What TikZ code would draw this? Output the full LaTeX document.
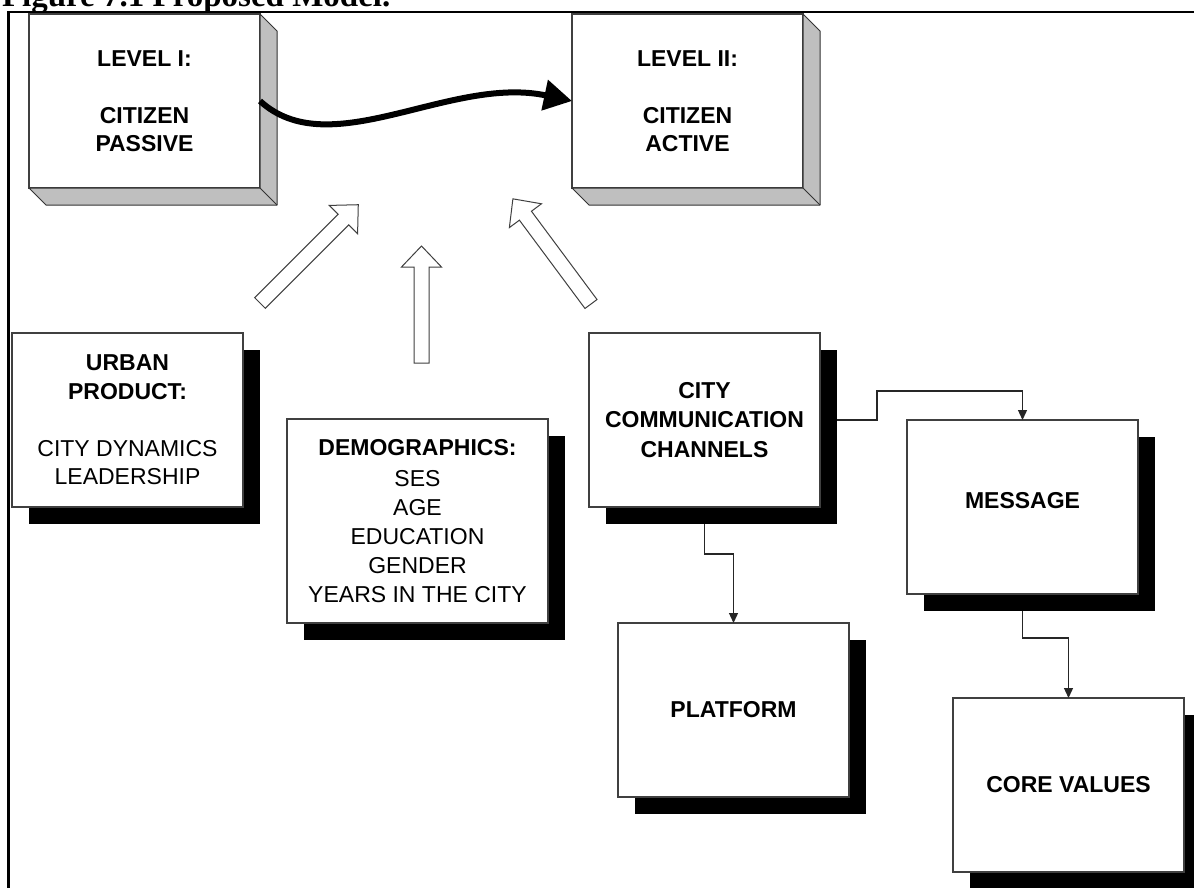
\documentclass[tikz,border=0pt]{standalone}
\usepackage{fontspec}
\setmainfont{Liberation Sans}
\newfontfamily\captionserif{Liberation Serif}
\usetikzlibrary{arrows.meta,shadows,calc}

\tikzset{
  every node/.style={inner sep=0pt,outer sep=0pt},
  panel/.style={draw=black!75,line width=1.1pt,fill=white,anchor=north west,
    minimum width=231pt,minimum height=174pt,align=center,
    font=\fontsize{23}{28.5}\selectfont},
  raised/.style={panel,font=\fontsize{23}{28.5}\selectfont\bfseries},
  shadowed/.style={panel,drop shadow={shadow xshift=17pt,shadow yshift=-17pt,
    fill=black,opacity=1}},
  side/.style={fill=black!25,draw=black!80,line width=1pt,line join=round},
  link/.style={draw=black!85,line width=1.3pt,-{Triangle[length=10pt,width=9pt]}},
  block/.style={draw=black!75,line width=1pt,fill=white,line join=miter},
  pics/blockarrow/.style={code={
    \path[block] (0,-7.5) -- (#1-21,-7.5) -- (#1-21,-20) -- (#1,0)
      -- (#1-21,20) -- (#1-21,7.5) -- (0,7.5) -- cycle;}},
}

\begin{document}
\begin{tikzpicture}[x=1pt,y=-1pt]
\useasboundingbox (0,0) rectangle (1194,887);

% caption and frame
\node[anchor=base west,font=\captionserif\bfseries\fontsize{33}{34}\selectfont]
  (caption) at (2,6) {Figure 7.1 Proposed Model.};
\draw[line width=2.5pt] (8.5,900) -- (8.5,12) -- (1200,12);

% the two levels (raised blocks)
\node[raised] (l1) at (29,14) {LEVEL I:\\[28.5pt]CITIZEN\\PASSIVE};
\node[raised] (l2) at (572,14) {LEVEL II:\\[28.5pt]CITIZEN\\ACTIVE};
\foreach \b in {l1,l2}{
  \path[side] (\b.north east) -- ++(17,17) -- ($(\b.south east)+(17,17)$)
    -- ($(\b.south west)+(17,17)$) -- (\b.south west) -- (\b.south east) -- cycle;
  \draw[side] (\b.south east) -- ++(17,17);
}

% factors
\node[shadowed] (urban) at (12,333)
  {\textbf{URBAN}\\\textbf{PRODUCT:}\\[28.5pt]CITY DYNAMICS\\LEADERSHIP};
\node[shadowed,minimum width=261pt,minimum height=204pt,
  font=\fontsize{23}{29}\selectfont] (demo) at (287,419)
  {\textbf{DEMOGRAPHICS:}\\[2pt]SES\\AGE\\EDUCATION\\GENDER\\YEARS IN THE CITY};
\node[shadowed,font=\fontsize{23}{29.5}\selectfont\bfseries] (cc) at (589,333)
  {CITY\\COMMUNICATION\\CHANNELS};
\node[shadowed,font=\fontsize{23}{28.5}\selectfont\bfseries,text depth=14pt]
  (msg) at (907,420) {MESSAGE};
\node[shadowed,font=\fontsize{23}{28.5}\selectfont\bfseries] (plat) at (618,623) {PLATFORM};
\node[shadowed,font=\fontsize{23}{28.5}\selectfont\bfseries] (core) at (953,698) {CORE VALUES};

% transition between the levels
\draw[line width=6pt,-{Triangle[length=28pt,width=30pt]}]
  (l1.east) .. controls (330,165) and (450,75) .. (l2.west);

% influences (hollow block arrows)
\pic[rotate=45] at (260,303) {blockarrow=139};
\pic[rotate=90] at (421.5,363) {blockarrow=117};
\pic[rotate=126.6] at (591,304) {blockarrow=131};

% channel connectors
\draw[link] ([xshift=17pt]cc.east) -- ++(40,0) |- ([yshift=29pt]msg.north) -- (msg.north);
\draw[link] ([yshift=-17pt]cc.south) -- ++(0,30) -| (plat.north);
\draw[link] ([yshift=-17pt]msg.south) -- ++(0,27) -| (core.north);
\end{tikzpicture}
\end{document}
